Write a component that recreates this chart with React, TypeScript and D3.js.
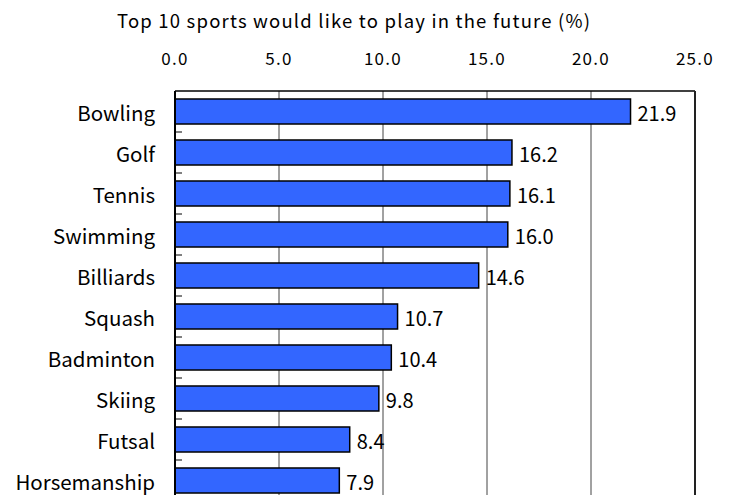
import React from "react";
import * as d3 from "d3";

const categories = ["Bowling", "Golf", "Tennis", "Swimming", "Billiards", "Squash", "Badminton", "Skiing", "Futsal", "Horsemanship"];
const values = [21.9, 16.2, 16.1, 16.0, 14.6, 10.7, 10.4, 9.8, 8.4, 7.9];
const tickValues = [0, 5, 10, 15, 20, 25];
const title = "Top 10 sports would like to play in the future (%)";

const FONT = "'Noto Sans CJK JP', 'DejaVu Sans', sans-serif";

export default function App() {
  const left = 175, right = 695, top = 91, step = 41;
  const x = d3.scaleLinear().domain([0, 25]).range([left, right]);
  const y = d3.scaleBand<string>().domain(categories).range([top, top + step * categories.length]).paddingInner(0.39).paddingOuter(0.195);
  const bottom = top + step * categories.length;
  const boundaries = categories.map((_, i) => top + step * (i + 1));
  return (
    <svg width={734} height={495} style={{ position: "absolute", left: 0, top: 0, background: "#fff" }}>
      <rect x={0} y={0} width={734} height={495} fill="#fff" />
      <text x={117} y={27.5} textLength={473} lengthAdjust="spacing" fontFamily={FONT} fontSize={18.5} fill="#000">{title}</text>
      {tickValues.map((t) => (
        <text key={t} x={x(t)} y={65} textAnchor="middle" fontFamily={FONT} fontSize={17} letterSpacing={1.3} fill="#000">{t.toFixed(1)}</text>
      ))}
      {tickValues.slice(1, -1).map((t) => (
        <line key={"g" + t} x1={x(t)} x2={x(t)} y1={top} y2={bottom} stroke="#444" strokeWidth={1} />
      ))}
      <line x1={left} x2={right} y1={top} y2={top} stroke="#000" strokeWidth={1.5} />
      <line x1={right} x2={right} y1={top} y2={bottom} stroke="#222" strokeWidth={2} />
      {categories.map((c, i) => (
        <g key={c}>
          <rect x={x(0)} y={y(c)!} width={x(values[i]) - x(0)} height={y.bandwidth()} fill="#3366FF" stroke="#000" strokeWidth={1.5} />
          <text x={x(values[i]) + 7} y={y(c)! + y.bandwidth() / 2 + 9.5} fontFamily={FONT} fontSize={20} fill="#000">{values[i].toFixed(1)}</text>
          <text x={155} y={y(c)! + y.bandwidth() / 2 + 9.5} textAnchor="end" fontFamily={FONT} fontSize={20.5} fill="#000">{c}</text>
        </g>
      ))}
      {boundaries.map((b, i) => (
        <line key={"t" + i} x1={left} x2={left + 7} y1={b} y2={b} stroke="#000" strokeWidth={1} />
      ))}
      <line x1={left} x2={left} y1={top} y2={bottom} stroke="#000" strokeWidth={2} />
    </svg>
  );
}
